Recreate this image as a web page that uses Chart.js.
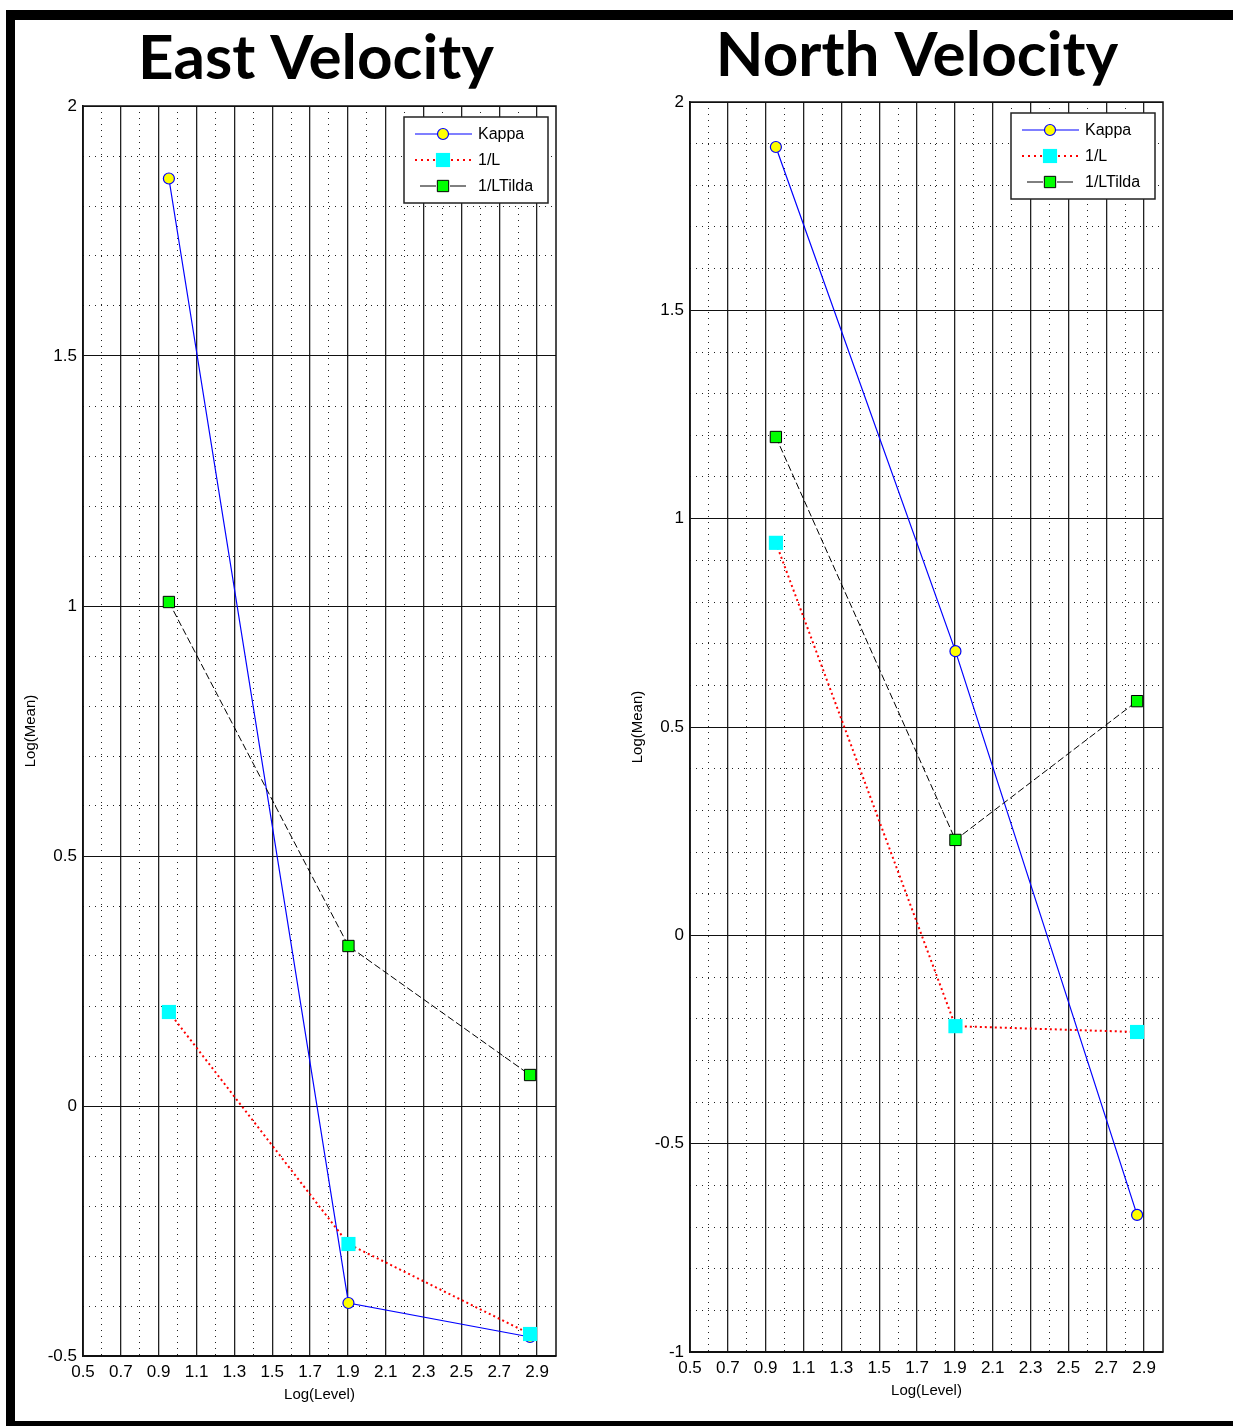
<!DOCTYPE html>
<html>
<head>
<meta charset="utf-8">
<script src="https://cdn.jsdelivr.net/npm/chart.js@4.4.1/dist/chart.umd.min.js"></script>
<style>
  html, body { margin: 0; padding: 0; background: #fff; }
  #page { position: relative; width: 1233px; height: 1426px; overflow: hidden; background: #fff; }
  .bar { position: absolute; background: #000; }
  canvas { position: absolute; }
</style>
</head>
<body>
<div id="page">
  <div class="bar" style="left:6px; top:10px; width:1227px; height:10px;"></div>
  <div class="bar" style="left:6px; top:10px; width:9px; height:1416px;"></div>
  <div class="bar" style="left:6px; top:1421px; width:1227px; height:5px;"></div>
  <canvas id="east" width="606" height="1400" style="left:13px; top:20px;"></canvas>
  <canvas id="north" width="594" height="1400" style="left:620px; top:20px;"></canvas>
</div>
<script>
// ---------- data ----------
const seriesNames = ['Kappa', '1/L', '1/LTilda'];
const logLevel = [0.954, 1.903, 2.863];

const eastKappa   = [1.855, -0.394, -0.462];
const eastInvL    = [0.188, -0.276, -0.456];
const eastInvLT   = [1.008, 0.320, 0.062];

const northKappa  = [1.892, 0.682, -0.671];
const northInvL   = [0.942, -0.218, -0.232];
const northInvLT  = [1.196, 0.229, 0.562];

// ---------- tick labels ----------
const xTicks      = [0.5, 0.7, 0.9, 1.1, 1.3, 1.5, 1.7, 1.9, 2.1, 2.3, 2.5, 2.7, 2.9];
const xTickLabels = ['0.5','0.7','0.9','1.1','1.3','1.5','1.7','1.9','2.1','2.3','2.5','2.7','2.9'];
const xMinorTicks = [0.6, 0.8, 1.0, 1.2, 1.4, 1.6, 1.8, 2.0, 2.2, 2.4, 2.6, 2.8];

const eastYTicks      = [-0.5, 0, 0.5, 1, 1.5, 2];
const eastYTickLabels = ['-0.5', '0', '0.5', '1', '1.5', '2'];
const eastYMinor      = [-0.4,-0.3,-0.2,-0.1,0.1,0.2,0.3,0.4,0.6,0.7,0.8,0.9,1.1,1.2,1.3,1.4,1.6,1.7,1.8,1.9];

const northYTicks      = [-1, -0.5, 0, 0.5, 1, 1.5, 2];
const northYTickLabels = ['-1', '-0.5', '0', '0.5', '1', '1.5', '2'];
const northYMinor      = [-0.9,-0.8,-0.7,-0.6,-0.4,-0.3,-0.2,-0.1,0.1,0.2,0.3,0.4,0.6,0.7,0.8,0.9,1.1,1.2,1.3,1.4,1.6,1.7,1.8,1.9];

const TICK_FONT = { family: '"Liberation Sans", Arial, sans-serif', size: 17 };
const AXIS_TITLE_FONT = { family: '"Liberation Sans", Arial, sans-serif', size: 15 };
const LEGEND_FONT = '16px "Liberation Sans", Arial, sans-serif';

function points(values) {
  return values.map((v, i) => ({ x: logLevel[i], y: v }));
}

function makeDatasets(kappa, invL, invLT) {
  return [
    {
      label: seriesNames[0], data: points(kappa), showLine: true,
      borderColor: '#0000ff', borderWidth: 1.2, borderDash: [],
      pointStyle: 'circle', pointRadius: 5.5, pointBackgroundColor: '#ffff00',
      pointBorderColor: '#0000ff', pointBorderWidth: 1.2, order: 3,
      legendDash: [], legendRadius: 5.5
    },
    {
      label: seriesNames[1], data: points(invL), showLine: true,
      borderColor: '#ff0000', borderWidth: 2, borderDash: [2, 3],
      pointStyle: 'rect', pointRadius: 10, pointBackgroundColor: '#00ffff',
      pointBorderColor: '#00ffff', pointBorderWidth: 0, order: 2,
      legendDash: [2, 4], legendRadius: 10
    },
    {
      label: seriesNames[2], data: points(invLT), showLine: true,
      borderColor: '#000000', borderWidth: 1, borderDash: [7, 3],
      pointStyle: 'rect', pointRadius: 8, pointBackgroundColor: '#00ff00',
      pointBorderColor: '#000000', pointBorderWidth: 1, order: 1,
      legendDash: [0, 5, 16, 14, 16, 20], legendRadius: 8
    }
  ];
}

const framePlugin = {
  id: 'frame',
  beforeDatasetsDraw(chart) {
    const { ctx, chartArea: a } = chart;
    ctx.save();
    ctx.lineWidth = 1.5;
    ctx.strokeStyle = '#111';
    ctx.strokeRect(a.left, a.top, a.right - a.left, a.bottom - a.top);
    ctx.restore();
  }
};

function drawMarker(ctx, ds, x, y) {
  ctx.save();
  ctx.setLineDash([]);
  ctx.fillStyle = ds.pointBackgroundColor;
  ctx.strokeStyle = ds.pointBorderColor;
  ctx.lineWidth = ds.pointBorderWidth;
  const r = ds.legendRadius;
  ctx.beginPath();
  if (ds.pointStyle === 'circle') {
    ctx.arc(x, y, r, 0, Math.PI * 2);
  } else {
    const s = Math.SQRT1_2 * r;
    ctx.rect(x - s, y - s, 2 * s, 2 * s);
  }
  ctx.fill();
  if (ds.pointBorderWidth > 0) ctx.stroke();
  ctx.restore();
}

const insideLegend = {
  id: 'insideLegend',
  afterDatasetsDraw(chart) {
    const { ctx, chartArea: a } = chart;
    const w = 144, h = 86;
    const x0 = a.right - 8 - w, y0 = a.top + 11;
    ctx.save();
    ctx.fillStyle = '#fff';
    ctx.fillRect(x0, y0, w, h);
    ctx.lineWidth = 1.5;
    ctx.strokeStyle = '#222';
    ctx.strokeRect(x0, y0, w, h);
    chart.data.datasets.forEach((ds, i) => {
      const y = y0 + 17 + i * 26;
      ctx.beginPath();
      ctx.setLineDash(ds.legendDash);
      ctx.strokeStyle = ds.borderColor;
      ctx.lineWidth = ds.borderWidth;
      ctx.moveTo(x0 + 11, y);
      ctx.lineTo(x0 + 68, y);
      ctx.stroke();
      ctx.setLineDash([]);
      drawMarker(ctx, ds, x0 + 39, y);
      ctx.fillStyle = '#000';
      ctx.font = LEGEND_FONT;
      ctx.textBaseline = 'middle';
      ctx.textAlign = 'left';
      ctx.fillText(ds.label, x0 + 74, y + 1);
    });
    ctx.restore();
  }
};

function buildChart(id, cfg) {
  return new Chart(document.getElementById(id), {
    type: 'scatter',
    data: { datasets: makeDatasets(cfg.kappa, cfg.invL, cfg.invLT) },
    plugins: [framePlugin, insideLegend],
    options: {
      responsive: false,
      animation: false,
      layout: { padding: 0 },
      plugins: {
        legend: { display: false },
        tooltip: { enabled: false },
        title: {
          display: true, text: cfg.title, color: '#000',
          font: { family: 'Lato, "Open Sans", sans-serif', weight: 'bold', size: 62, lineHeight: 1 },
          padding: { top: cfg.titlePadTop, bottom: cfg.titleHeight - 62 - cfg.titlePadTop }
        }
      },
      scales: {
        x: {
          type: 'linear', position: 'bottom', min: 0.5, max: 3.0,
          afterBuildTicks: s => { s.ticks = xTicks.map(v => ({ value: v })); },
          afterFit: s => { s.height = cfg.xHeight; },
          ticks: {
            autoSkip: false, maxRotation: 0, minRotation: 0, padding: 6,
            color: '#000', font: TICK_FONT,
            callback: (v, i) => xTickLabels[i]
          },
          grid: { color: '#222', lineWidth: 1.3, drawTicks: false },
          border: { display: true, color: '#111', width: 1.5 },
          title: {
            display: true, text: 'Log(Level)', color: '#000', font: AXIS_TITLE_FONT,
            padding: { top: cfg.xTitlePad, bottom: cfg.xTitlePad }
          }
        },
        xMinor: {
          type: 'linear', position: 'top', min: 0.5, max: 3.0,
          afterBuildTicks: s => { s.ticks = xMinorTicks.map(v => ({ value: v })); },
          afterFit: s => { s.height = 0; },
          ticks: { display: false },
          grid: { color: '#222', lineWidth: 1, drawTicks: false },
          border: { display: false, dash: [1, 5] }
        },
        y: {
          type: 'linear', position: 'left', min: cfg.yMin, max: 2,
          afterBuildTicks: s => { s.ticks = cfg.yTicks.map(v => ({ value: v })); },
          afterFit: s => { s.width = 70; },
          ticks: {
            autoSkip: false, padding: 6, color: '#000', font: TICK_FONT,
            callback: (v, i) => cfg.yTickLabels[i]
          },
          grid: { color: '#111', lineWidth: 1, drawTicks: false },
          border: { display: true, color: '#111', width: 1.5 },
          title: {
            display: true, text: 'Log(Mean)', color: '#000', font: AXIS_TITLE_FONT,
            padding: { top: 9, bottom: 9 }
          }
        },
        yMinor: {
          type: 'linear', position: 'right', min: cfg.yMin, max: 2,
          afterBuildTicks: s => { s.ticks = cfg.yMinor.map(v => ({ value: v })); },
          afterFit: s => { s.width = cfg.rightGap; },
          ticks: { display: false },
          grid: { color: '#222', lineWidth: 1, drawTicks: false },
          border: { display: false, dash: [1, 5] }
        }
      }
    }
  });
}

buildChart('east', {
  title: 'East Velocity', titlePadTop: 8, titleHeight: 86,
  kappa: eastKappa, invL: eastInvL, invLT: eastInvLT,
  yMin: -0.5, yTicks: eastYTicks, yTickLabels: eastYTickLabels, yMinor: eastYMinor,
  xHeight: 64, xTitlePad: 16, rightGap: 63
});

buildChart('north', {
  title: 'North Velocity', titlePadTop: 5, titleHeight: 82,
  kappa: northKappa, invL: northInvL, invLT: northInvLT,
  yMin: -1, yTicks: northYTicks, yTickLabels: northYTickLabels, yMinor: northYMinor,
  xHeight: 68, xTitlePad: 20, rightGap: 51
});
</script>
</body>
</html>
